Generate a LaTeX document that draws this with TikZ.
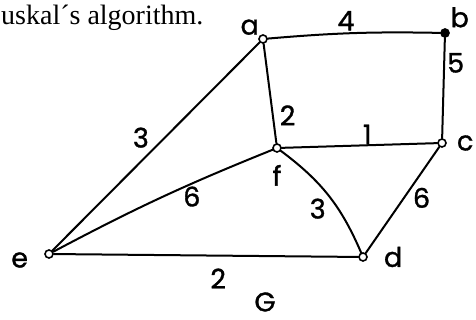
\documentclass[tikz,border=0pt]{standalone}
\usepackage{fontspec}
\setmainfont{Liberation Serif}
\newfontfamily\handfont[FakeBold=1.2]{Poppins}
\usepackage{tikz}
\usetikzlibrary{positioning}

\begin{document}
\begin{tikzpicture}[
  x=1pt, y=1pt,
  vtx/.style={circle, draw, fill=white, inner sep=0pt, minimum size=8pt, line width=1.6pt},
  dot/.style={circle, draw, fill=black, inner sep=0pt, minimum size=8pt, line width=1.6pt},
  lbl/.style={font=\handfont\fontsize{27}{27}\selectfont, inner sep=2pt},
  edge/.style={line width=2pt, line cap=round}]

  \useasboundingbox (0,0) rectangle (476,320);

  % title line, cut at the left edge
  \node[anchor=base west, inner sep=0pt, font=\fontsize{28}{28}\selectfont] (title) at (1,295) {uskal\textasciiacute s algorithm.};

  % vertices
  \node[vtx, label={[lbl, label distance=-2pt]above left:a}] (a) at (263,281) {};
  \node[dot, label={[lbl, label distance=0pt]above right:b}] (b) at (445,287) {};
  \node[vtx, label={[lbl, label distance=8pt]right:c}] (c) at (442,177) {};
  \node[vtx, label={[lbl, label distance=10pt]below:f}] (f) at (277,172) {};
  \node[vtx, label={[lbl, label distance=14pt]right:d}] (d) at (363,63) {};
  \node[vtx, label={[lbl, label distance=14pt, yshift=-6pt]left:e}] (e) at (49,66) {};

  % edges with weights
  \draw[edge] (a) to[bend left=3] node[lbl, above, pos=0.45] {4} (b);
  \draw[edge] (b) -- node[lbl, right, pos=0.25] {5} (c);
  \draw[edge] (a) -- node[lbl, right, pos=0.72, xshift=4pt] {2} (f);
  \draw[edge] (e) -- node[lbl, above left, pos=0.48] {3} (a);
  \draw[edge] (f) -- node[lbl, above, pos=0.55, inner sep=0pt] {1} (c);
  \draw[edge] (e) to[bend left=3] node[lbl, below, pos=0.65] {6} (f);
  \draw[edge] (f) to[bend left=15] node[lbl, below left, pos=0.5] {3} (d);
  \draw[edge] (c) -- node[lbl, right, pos=0.48, xshift=6pt] {6} (d);
  \draw[edge] (e) -- node[lbl, below, pos=0.54, yshift=-10pt] {2} (d);

  % graph name
  \node[lbl] (G) at (265,18) {G};
\end{tikzpicture}
\end{document}
